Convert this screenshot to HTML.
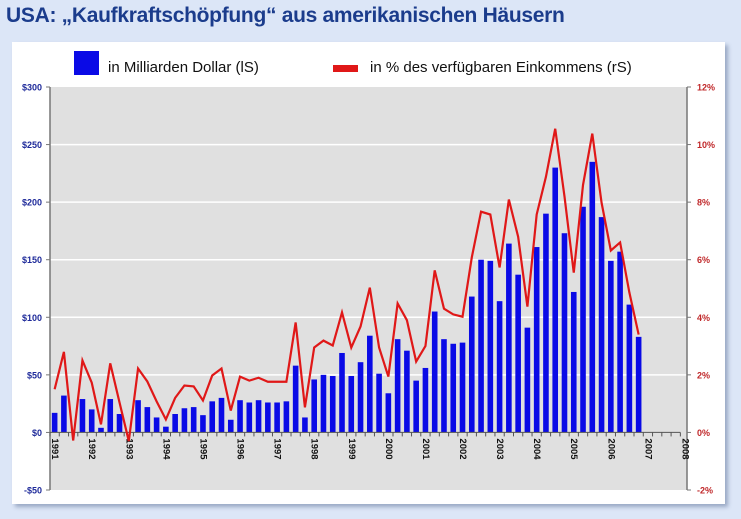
<!DOCTYPE html>
<html><head><meta charset="utf-8"><style>
body{margin:0;width:741px;height:519px;background:#dce6f7;font-family:"Liberation Sans",sans-serif;overflow:hidden;position:relative}
#title{position:absolute;left:6px;top:4px;font-size:21px;font-weight:bold;color:#1b3c8c;letter-spacing:-0.3px}
#card{position:absolute;left:12px;top:42px;width:713px;height:462px;background:#fff;box-shadow:3px 3px 4px #9aa9c4}
svg{position:absolute;left:0;top:0}
</style></head><body>
<div id="title">USA: „Kaufkraftschöpfung“ aus amerikanischen Häusern</div>
<div id="card"></div>
<svg id="chart" width="741" height="519"></svg>
<script>
const years=["1991","1992","1993","1994","1995","1996","1997","1998","1999","2000","2001","2002","2003","2004","2005","2006","2007","2008"];
const dollars=[17,32,0,29,20,4,29,16,0,28,22,13,5,16,21,22,15,27,30,11,28,26,28,26,26,27,58,13,46,50,49,69,49,61,84,51,34,81,71,45,56,105,81,77,78,118,150,149,114,164,137,91,161,190,230,173,122,196,235,187,149,157,111,83];
const percent=[1.5,2.8,-0.28,2.5,1.73,0.28,2.4,1.04,-0.3,2.22,1.77,1.08,0.45,1.2,1.63,1.6,1.11,1.98,2.22,0.76,1.94,1.8,1.9,1.76,1.76,1.76,3.82,0.87,2.95,3.19,3.02,4.17,2.95,3.68,5.03,2.95,1.94,4.48,3.9,2.46,3.0,5.63,4.3,4.1,4.02,6.08,7.67,7.57,5.73,8.09,6.8,4.37,7.57,8.88,10.55,8.2,5.55,8.6,10.38,7.98,6.32,6.6,4.86,3.4];
const leftTicks=[-50,0,50,100,150,200,250,300];
const leftLabels=["-$50","$0","$50","$100","$150","$200","$250","$300"];
const rightTicks=[-2,0,2,4,6,8,10,12];
const rightLabels=["-2%","0%","2%","4%","6%","8%","10%","12%"];
const NS="http://www.w3.org/2000/svg";
const svg=document.getElementById('chart');
const X0=50,X1=687,Y0=87,Y1=490;
const yL=v=>Y1-(v+50)/350*(Y1-Y0);
const yR=v=>Y1-(v+2)/14*(Y1-Y0);
const slot=9.27;
const xq=i=>50+slot*(i+0.5);
function mk(t,a,p){const e=document.createElementNS(NS,t);for(const k in a)e.setAttribute(k,a[k]);(p||svg).appendChild(e);return e;}
let e=mk('rect',{x:X0,y:Y0,width:X1-X0,height:Y1-Y0,fill:'#e0e0e0'});


leftTicks.forEach((t,i)=>{
  const y=yL(t);
  if(t>0&&t<300){let g=mk('line',{x1:X0,x2:X1,y1:y,y2:y,stroke:'#fff','stroke-width':1.5});
  
  }
  let l=mk('line',{x1:X0-4,x2:X0,y1:y,y2:y,stroke:'#777'});
  
  
  let tx=mk('text',{x:X0-8,y:y+3.5,'text-anchor':'end','font-size':9,'font-weight':'bold',fill:'#1e2a9a'});
  tx.textContent=leftLabels[i];
  
  
});
rightTicks.forEach((t,i)=>{
  const y=yR(t);
  let l=mk('line',{x1:X1,x2:X1+4,y1:y,y2:y,stroke:'#777'});
  
  
  let tx=mk('text',{x:X1+10,y:y+3.5,'font-size':9,'font-weight':'bold',fill:'#c0282a'});
  tx.textContent=rightLabels[i];
  
  
});
mk('line',{x1:X0,x2:X0,y1:Y0,y2:Y1,stroke:'#777','stroke-width':1.5});
mk('line',{x1:X1,x2:X1,y1:Y0,y2:Y1,stroke:'#777','stroke-width':1.5});
dollars.forEach((v,i)=>{
  const y=yL(Math.max(v,0)),h=yL(0)-y;
  let b=mk('rect',{x:xq(i)-2.8,y:y,width:5.6,height:Math.max(h,0),fill:'#0a0ae6'});
  
  
});
mk('line',{x1:X0,x2:X0+68*slot,y1:yL(0),y2:yL(0),stroke:'#555','stroke-width':1});
for(let i=0;i<=68;i++){const x=X0+i*slot;mk('line',{x1:x,x2:x,y1:yL(0),y2:yL(0)+4,stroke:'#555'});}
years.forEach((yr,i)=>{
  const x=xq(i*4),y=yL(0)+6;
  let t=mk('text',{x:x,y:y,transform:`rotate(90 ${x} ${y})`,'font-size':9.5,'font-weight':'bold',fill:'#111','dominant-baseline':'middle'});
  t.textContent=yr;
  
  
});
let pts=percent.map((v,i)=>xq(i)+','+yR(v)).join(' ');
let pl=mk('polyline',{points:pts,fill:'none',stroke:'#e01818','stroke-width':2.2,'stroke-linejoin':'miter'});


let lb=mk('rect',{x:74,y:51,width:25,height:24,fill:'#0a0ae6'});


let lt=mk('text',{x:108,y:72,'font-size':15,fill:'#111'});
lt.textContent='in Milliarden Dollar (lS)';


let lr=mk('rect',{x:333,y:65,width:25,height:7,fill:'#e01818'});


let lt2=mk('text',{x:370,y:72,'font-size':15,fill:'#111'});
lt2.textContent='in % des verfügbaren Einkommens (rS)';


</script>
</body></html>
